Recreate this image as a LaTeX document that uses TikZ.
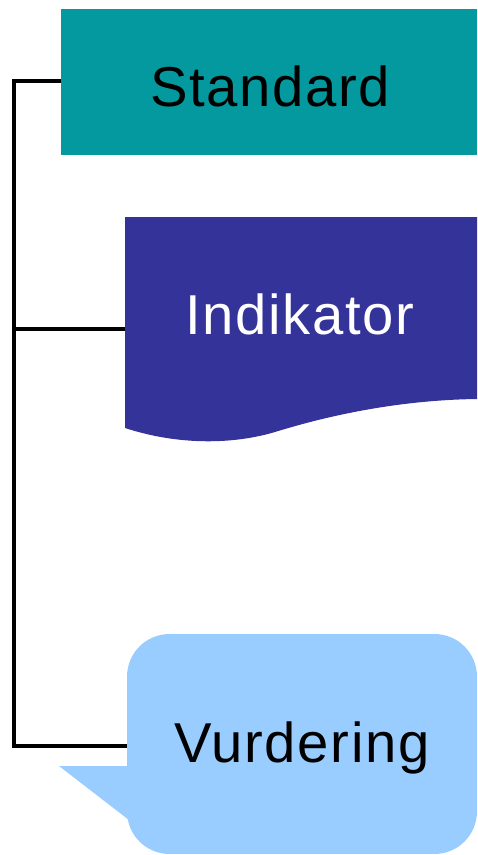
\documentclass[tikz,border=0pt]{standalone}
\usepackage{fontspec}
\setmainfont{Liberation Sans}[LetterSpace=3]
\definecolor{tealboks}{RGB}{3,153,158}
\definecolor{blaaboks}{RGB}{51,51,153}
\definecolor{lysblaa}{RGB}{153,204,255}
\tikzset{
  tekst/.style={font=\fontsize{32}{38}\selectfont, inner sep=0pt},
  linje/.style={line width=2.3pt}
}

\begin{document}
\begin{tikzpicture}[x=0.02cm, y=-0.02cm]
    \useasboundingbox (0,0) rectangle (477,855);

    % Standard
    \node[fill=tealboks, minimum width=8.32cm, minimum height=2.92cm, inner sep=0pt] (Standard) at (269,82) {};
    \node[tekst, text=black] (StandardTekst) at (270,86) {Standard};

    % Indikator (dokumentform med bølget kant)
    \fill[blaaboks] (125,217) -- (477,217) -- (477,399)
        .. controls (400,400) and (330,415) .. (275,432)
        .. controls (235,444) and (180,446) .. (125,428) -- cycle;
    \node[tekst, text=white] (Indikator) at (300,314) {Indikator};
    \coordinate (IndikatorV) at (125,329);

    % Vurdering (snakkeboble)
    \node[fill=lysblaa, rounded corners=0.85cm, minimum width=7cm, minimum height=4.4cm, inner sep=0pt] (VurderingBoks) at (302,744) {};
    \fill[lysblaa] (129,766) -- (59,766) -- (129,820) -- cycle;
    \node[tekst, text=black] (Vurdering) at (302,748) {Vurdering};
    \coordinate (VurderingV) at (127,746);

    % Linjer
    \coordinate (Topp) at (14,81);
    \draw[linje] (Standard.west |- Topp) -- (Topp) |- (VurderingV);
    \draw[linje] (Topp |- IndikatorV) -- (IndikatorV);
\end{tikzpicture}
\end{document}
